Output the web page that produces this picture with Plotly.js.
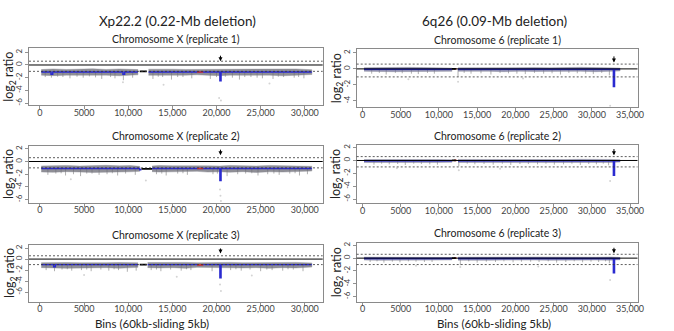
<!DOCTYPE html>
<html><head><meta charset="utf-8">
<script src="https://cdn.plot.ly/plotly-3.0.1.min.js"></script>
<style>html,body{margin:0;padding:0;background:#fff}</style>
</head><body><div id="chart" style="width:674px;height:331px"></div>
<script>
// ---------- tick labels ----------
const xTickValsL = [0, 5000, 10000, 15000, 20000, 25000, 30000];
const xTickTextL = ['0', '5000', '10,000', '15,000', '20,000', '25,000', '30,000'];
const xTickValsR = [0, 5000, 10000, 15000, 20000, 25000, 30000, 35000];
const xTickTextR = ['0', '5000', '10,000', '15,000', '20,000', '25,000', '30,000', '35,000'];
const yTickVals = [2, 0, -2, -4, -6];
const yTickText = ['2', '0', '-2', '-4', '-6'];
const thresholds = [0.6, -1.0];

const colTitles = ['Xp22.2 (0.22-Mb deletion)', '6q26 (0.09-Mb deletion)'];
const panelTitles = ['Chromosome X (replicate 1)', 'Chromosome 6 (replicate 1)',
                     'Chromosome X (replicate 2)', 'Chromosome 6 (replicate 2)',
                     'Chromosome X (replicate 3)', 'Chromosome 6 (replicate 3)'];
const xTitle = 'Bins (60kb-sliding 5kb)';
const yTitle = 'log<sub>2</sub> ratio';

// ---------- Chromosome X, replicate 1 ----------
const L1BandX  = [150, 1500, 3000, 4500, 6000, 7500, 9000, 10200, 11100, null, 12300, 13500, 15000, 16500, 17800, 19000, 20400, 21500, 23000, 24500, 26000, 27500, 29000, 30800];
const L1BandHi = [-0.72, -0.62, -0.7, -0.66, -0.6, -0.7, -0.62, -0.68, -0.72, null, -0.66, -0.62, -0.66, -0.7, -0.7, -0.66, -0.72, -0.64, -0.7, -0.62, -0.66, -0.7, -0.62, -0.75];
const L1BandLo = [-1.6, -1.68, -1.6, -1.62, -1.66, -1.6, -1.7, -1.62, -1.55, null, -1.62, -1.7, -1.64, -1.6, -1.55, -1.62, -1.68, -1.6, -1.62, -1.66, -1.6, -1.7, -1.62, -1.5];
const L1SpikeX  = [600, 1300, 2000, 2600, 3400, 4200, 4900, 5600, 6300, 7000, 8000, 8500, 9450, 10500, 12800, 13400, 13900, 14900, 15600, 16200, 17200, 19300, 20000, 21000, 21800, 22600, 23200, 23900, 24600, 25200, 26400, 27000, 27600, 28800, 29300, 29900];
const L1SpikeLo = [-1.9, -2.0, -1.85, -1.9, -2.1, -1.85, -2.0, -1.8, -1.95, -2.2, -1.9, -2.1, -2.4, -2.0, -2.2, -1.85, -1.9, -2.3, -1.9, -1.9, -2.1, -2.2, -1.9, -1.85, -2.0, -2.3, -1.9, -1.9, -2.0, -2.1, -2.2, -1.85, -1.9, -2.0, -1.9, -2.1];
const L1DotX = [9400, 14000, 20300, 20500, 26000];
const L1DotY = [-2.7, -3.1, -5.2, -5.6, -2.9];
const L1SegStart = [150, 1250, 1450, 9400, 9600, 12300, 18500, 20380, 20520];
const L1SegEnd   = [1250, 1450, 9400, 9600, 11100, 18500, 20380, 20520, 30800];
const L1SegMean  = [-1.1, -1.45, -1.1, -1.45, -1.1, -1.1, -1.1, -2.5, -1.1];
const L1RedStart = [17800], L1RedEnd = [18500], L1RedMean = [-1.1];
const L1CenStart = [11300], L1CenEnd = [12100], L1CenMean = [-1.0];
const L1Center = -1.1;
const L1Arrow = {x: 20450, top: 1.7, tip: 0.6};

// ---------- Chromosome X, replicate 2 ----------
const L2BandX  = [150, 1500, 3000, 4500, 6000, 7500, 9000, 10200, 11300, null, 12700, 13500, 15000, 16500, 17800, 19000, 20400, 21500, 23000, 24500, 26000, 27500, 29000, 30800];
const L2BandHi = [-0.7, -0.64, -0.62, -0.7, -0.64, -0.6, -0.68, -0.64, -0.75, null, -0.7, -0.62, -0.68, -0.64, -0.72, -0.68, -0.7, -0.62, -0.66, -0.7, -0.62, -0.68, -0.64, -0.75];
const L2BandLo = [-1.65, -1.7, -1.6, -1.65, -1.72, -1.6, -1.66, -1.62, -1.55, null, -1.6, -1.66, -1.72, -1.6, -1.55, -1.66, -1.62, -1.68, -1.6, -1.72, -1.62, -1.66, -1.6, -1.5];
const L2SpikeX  = [900, 1800, 2400, 2900, 3800, 4600, 5300, 5900, 6700, 7600, 8200, 8800, 9700, 10800, 13200, 13800, 14300, 15600, 16200, 16700, 19600, 20100, 21200, 22400, 23300, 24000, 24700, 25800, 26500, 27100, 28300, 28900, 29400, 30300];
const L2SpikeLo = [-2.1, -1.9, -1.85, -2.2, -2.0, -2.3, -1.9, -1.9, -2.1, -2.0, -1.85, -2.2, -1.9, -2.1, -2.0, -1.9, -2.2, -1.9, -1.85, -2.1, -2.0, -1.9, -2.3, -2.0, -1.9, -1.85, -2.2, -2.0, -1.9, -2.1, -1.9, -1.85, -2.2, -2.0];
const L2DotX = [3500, 12000, 20400, 20450, 20500];
const L2DotY = [-2.8, -3.0, -4.4, -5.4, -6.2];
const L2SegStart = [150, 11300, 12700, 18500, 20380, 20520];
const L2SegEnd   = [11300, 11500, 18500, 20380, 20520, 30800];
const L2SegMean  = [-1.1, -1.3, -1.1, -1.1, -3.0, -1.1];
const L2RedStart = [17800], L2RedEnd = [18500], L2RedMean = [-1.1];
const L2CenStart = [11500], L2CenEnd = [12700], L2CenMean = [-1.15];
const L2Center = -1.1;
const L2Arrow = {x: 20450, top: 2.1, tip: 1.0};

// ---------- Chromosome X, replicate 3 ----------
const L3BandX  = [150, 1500, 3000, 4500, 6000, 7500, 9000, 10200, 11100, null, 12200, 13500, 15000, 16500, 17800, 19000, 20400, 21500, 23000, 24500, 26000, 27500, 29000, 30800];
const L3BandHi = [-0.66, -0.6, -0.64, -0.66, -0.6, -0.66, -0.62, -0.58, -0.68, null, -0.64, -0.6, -0.66, -0.6, -0.68, -0.64, -0.66, -0.6, -0.66, -0.62, -0.6, -0.66, -0.6, -0.7];
const L3BandLo = [-1.55, -1.6, -1.66, -1.55, -1.6, -1.55, -1.66, -1.55, -1.5, null, -1.55, -1.6, -1.55, -1.66, -1.5, -1.55, -1.6, -1.55, -1.6, -1.55, -1.66, -1.55, -1.6, -1.45];
const L3SpikeX  = [700, 1650, 2500, 3100, 3600, 4700, 5300, 5800, 6900, 7800, 8400, 8900, 9900, 10900, 12600, 13200, 13700, 14800, 16000, 16600, 17100, 19500, 21600, 22200, 22800, 23800, 25000, 25700, 26300, 27500, 28100, 28700, 29800];
const L3SpikeLo = [-2.0, -2.2, -1.9, -1.85, -2.1, -2.0, -1.9, -2.2, -1.9, -2.1, -1.85, -2.0, -2.3, -2.1, -2.0, -1.9, -2.2, -1.9, -2.1, -1.85, -2.0, -2.2, -2.0, -1.85, -2.1, -1.9, -2.2, -1.9, -2.0, -2.1, -1.85, -1.9, -2.2];
const L3DotX = [5000, 15500, 20400, 20500, 24000];
const L3DotY = [-2.9, -3.2, -4.6, -5.8, -3.0];
const L3SegStart = [150, 1550, 1750, 12200, 18500, 20380, 20520];
const L3SegEnd   = [1550, 1750, 11100, 18500, 20380, 20520, 30800];
const L3SegMean  = [-1.0, -1.4, -1.0, -1.0, -1.0, -3.4, -1.0];
const L3RedStart = [17800], L3RedEnd = [18500], L3RedMean = [-1.05];
const L3CenStart = [11300], L3CenEnd = [12100], L3CenMean = [-1.0];
const L3Center = -1.0;
const L3Arrow = {x: 20450, top: 2.2, tip: 1.0};

// ---------- Chromosome 6, replicate 1 ----------
const R1BandX  = [200, 2000, 4000, 6000, 8000, 10000, 11700, null, 12500, 14500, 16500, 18500, 20500, 22500, 24500, 26500, 28500, 30500, 32500, 33700];
const R1BandHi = [0.15, 0.18, 0.14, 0.2, 0.16, 0.12, 0.1, null, 0.14, 0.16, 0.18, 0.15, 0.2, 0.16, 0.14, 0.18, 0.2, 0.16, 0.18, 0.1];
const R1BandLo = [-0.3, -0.32, -0.35, -0.3, -0.28, -0.32, -0.3, null, -0.3, -0.33, -0.3, -0.35, -0.3, -0.32, -0.3, -0.33, -0.3, -0.35, -0.3, -0.25];
const R1SpikeX  = [1200, 2200, 3100, 4300, 5200, 6400, 7300, 8500, 9400, 12500, 13300, 14200, 15500, 16800, 18000, 19100, 20200, 21300, 22500, 23700, 24800, 25900, 27000, 28100, 29200, 30200, 31300, 32300];
const R1SpikeLo = [-0.6, -0.5, -0.7, -0.5, -0.55, -0.6, -0.65, -0.5, -0.6, -1.0, -0.5, -0.6, -0.55, -0.7, -0.5, -0.55, -0.6, -0.65, -0.5, -0.6, -0.55, -0.7, -0.5, -0.55, -0.6, -0.65, -0.5, -0.8];
const R1DotX = [6000, 12500, 21000, 32400];
const R1DotY = [-1.3, -1.6, -1.2, -4.6];
const R1SegStart = [200, 12500, 32820, 32980];
const R1SegEnd   = [11700, 32820, 32980, 33700];
const R1SegMean  = [-0.05, -0.05, -2.2, -0.05];
const R1RedStart = [12000], R1RedEnd = [12300], R1RedMean = [0.02];
const R1CenStart = [11700], R1CenEnd = [12200], R1CenMean = [0.0];
const R1Center = -0.05;
const R1Arrow = {x: 32900, top: 1.75, tip: 0.8};

// ---------- Chromosome 6, replicate 2 ----------
const R2BandX  = [200, 2000, 4000, 6000, 8000, 10000, 11700, null, 12500, 14500, 16500, 18500, 20500, 22500, 24500, 26500, 28500, 30500, 32500, 33700];
const R2BandHi = [0.14, 0.16, 0.18, 0.14, 0.2, 0.15, 0.1, null, 0.16, 0.14, 0.2, 0.16, 0.15, 0.18, 0.16, 0.14, 0.18, 0.2, 0.16, 0.1];
const R2BandLo = [-0.32, -0.3, -0.34, -0.3, -0.32, -0.3, -0.28, null, -0.32, -0.3, -0.35, -0.3, -0.33, -0.3, -0.32, -0.35, -0.3, -0.32, -0.3, -0.25];
const R2SpikeX  = [1500, 2500, 3500, 4600, 5600, 6700, 7700, 8800, 9800, 12600, 13700, 14700, 15900, 17100, 18300, 19400, 20600, 21700, 22900, 24000, 25100, 26300, 27400, 28500, 29600, 30600, 31500, 32200];
const R2SpikeLo = [-0.65, -0.5, -0.6, -0.55, -0.7, -0.5, -0.55, -0.6, -0.65, -0.9, -0.5, -0.6, -0.55, -0.65, -0.5, -0.7, -0.55, -0.55, -0.6, -0.5, -0.65, -0.6, -0.5, -0.7, -0.55, -0.6, -0.5, -0.75];
const R2DotX = [4500, 12600, 18000, 32400];
const R2DotY = [-1.2, -1.5, -1.3, -3.2];
const R2SegStart = [200, 12500, 32820, 32980];
const R2SegEnd   = [11700, 32820, 32980, 33700];
const R2SegMean  = [-0.05, -0.05, -2.3, -0.05];
const R2RedStart = [12000], R2RedEnd = [12300], R2RedMean = [0.02];
const R2CenStart = [11700], R2CenEnd = [12200], R2CenMean = [0.0];
const R2Center = -0.05;
const R2Arrow = {x: 32900, top: 2.0, tip: 0.8};

// ---------- Chromosome 6, replicate 3 ----------
const R3BandX  = [200, 2000, 4000, 6000, 8000, 10000, 11700, null, 12500, 14500, 16500, 18500, 20500, 22500, 24500, 26500, 28500, 30500, 32500, 33700];
const R3BandHi = [0.16, 0.14, 0.18, 0.2, 0.15, 0.16, 0.1, null, 0.15, 0.18, 0.14, 0.2, 0.16, 0.18, 0.15, 0.2, 0.16, 0.14, 0.18, 0.1];
const R3BandLo = [-0.3, -0.34, -0.3, -0.32, -0.35, -0.3, -0.28, null, -0.32, -0.3, -0.33, -0.3, -0.35, -0.3, -0.32, -0.3, -0.34, -0.3, -0.32, -0.25];
const R3SpikeX  = [1000, 1900, 2800, 3900, 4900, 6000, 7000, 8100, 9100, 12800, 13900, 15000, 16200, 17400, 18500, 19700, 20800, 22000, 23100, 24300, 25400, 26600, 27700, 28800, 29900, 30900, 31800, 32300];
const R3SpikeLo = [-0.6, -0.5, -0.7, -0.55, -0.65, -0.5, -0.55, -0.6, -0.6, -1.1, -0.5, -0.7, -0.55, -0.6, -0.5, -0.65, -0.55, -0.55, -0.6, -0.5, -0.7, -0.6, -0.5, -0.65, -0.55, -0.6, -0.5, -0.8];
const R3DotX = [7000, 12800, 23000, 32400];
const R3DotY = [-1.2, -1.4, -1.3, -3.4];
const R3SegStart = [200, 12500, 32820, 32980];
const R3SegEnd   = [11700, 32820, 32980, 33700];
const R3SegMean  = [-0.05, -0.05, -2.3, -0.05];
const R3RedStart = [12000], R3RedEnd = [12300], R3RedMean = [0.02];
const R3CenStart = [11700], R3CenEnd = [12200], R3CenMean = [0.0];
const R3Center = -0.05;
const R3Arrow = {x: 32900, top: 1.85, tip: 0.75};

// ---------- assemble ----------
const W = 674, H = 331;
const FONT = 'Lato, "Open Sans", sans-serif';
const panels = [
  {id: '',  band: [L1BandX, L1BandHi, L1BandLo], spk: [L1SpikeX, L1SpikeLo], dot: [L1DotX, L1DotY], seg: [L1SegStart, L1SegEnd, L1SegMean], red: [L1RedStart, L1RedEnd, L1RedMean], cen: [L1CenStart, L1CenEnd, L1CenMean], center: L1Center, arrow: L1Arrow,
   px: [29, 322.7], py: [48.3, 105.3], yr: [-6.35, 2.63], xr: [-1240, 32030], left: true},
  {id: '2', band: [R1BandX, R1BandHi, R1BandLo], spk: [R1SpikeX, R1SpikeLo], dot: [R1DotX, R1DotY], seg: [R1SegStart, R1SegEnd, R1SegMean], red: [R1RedStart, R1RedEnd, R1RedMean], cen: [R1CenStart, R1CenEnd, R1CenMean], center: R1Center, arrow: R1Arrow,
   px: [356.7, 637.5], py: [49.3, 107.3], yr: [-4.8, 2.45], xr: [-760, 35980], left: false},
  {id: '3', band: [L2BandX, L2BandHi, L2BandLo], spk: [L2SpikeX, L2SpikeLo], dot: [L2DotX, L2DotY], seg: [L2SegStart, L2SegEnd, L2SegMean], red: [L2RedStart, L2RedEnd, L2RedMean], cen: [L2CenStart, L2CenEnd, L2CenMean], center: L2Center, arrow: L2Arrow,
   px: [29, 322.7], py: [145.5, 202.5], yr: [-6.45, 2.52], xr: [-1240, 32030], left: true},
  {id: '4', band: [R2BandX, R2BandHi, R2BandLo], spk: [R2SpikeX, R2SpikeLo], dot: [R2DotX, R2DotY], seg: [R2SegStart, R2SegEnd, R2SegMean], red: [R2RedStart, R2RedEnd, R2RedMean], cen: [R2CenStart, R2CenEnd, R2CenMean], center: R2Center, arrow: R2Arrow,
   px: [356.7, 637.5], py: [145, 203], yr: [-6.6, 2.4], xr: [-760, 35980], left: false},
  {id: '5', band: [L3BandX, L3BandHi, L3BandLo], spk: [L3SpikeX, L3SpikeLo], dot: [L3DotX, L3DotY], seg: [L3SegStart, L3SegEnd, L3SegMean], red: [L3RedStart, L3RedEnd, L3RedMean], cen: [L3CenStart, L3CenEnd, L3CenMean], center: L3Center, arrow: L3Arrow,
   px: [29, 322.7], py: [244.5, 301.5], yr: [-7.7, 2.65], xr: [-1240, 32030], left: true},
  {id: '6', band: [R3BandX, R3BandHi, R3BandLo], spk: [R3SpikeX, R3SpikeLo], dot: [R3DotX, R3DotY], seg: [R3SegStart, R3SegEnd, R3SegMean], red: [R3RedStart, R3RedEnd, R3RedMean], cen: [R3CenStart, R3CenEnd, R3CenMean], center: R3Center, arrow: R3Arrow,
   px: [356.7, 637.5], py: [243, 301.5], yr: [-6.76, 2.36], xr: [-760, 35980], left: false}
];

function steps(s, e, m) {
  const xs = [], ys = [];
  for (let i = 0; i < s.length; i++) {
    if (i > 0 && s[i] !== e[i - 1]) { xs.push(null); ys.push(null); }
    xs.push(s[i], e[i]); ys.push(m[i], m[i]);
  }
  return [xs, ys];
}

const traces = [], shapes = [], annotations = [];
const layout = {
  width: W, height: H, margin: {l: 0, r: 0, t: 0, b: 0},
  paper_bgcolor: '#fff', plot_bgcolor: '#fff', showlegend: false,
  font: {family: FONT, color: '#222'}
};

panels.forEach((p, idx) => {
  const xa = 'x' + p.id, ya = 'y' + p.id;
  const bandFill = p.left ? 'rgba(105,105,115,0.75)' : 'rgba(95,95,150,0.7)';
  // spikes (under band)
  const sx = [], sy = [];
  p.spk[0].forEach((v, i) => { sx.push(v, v, null); sy.push(p.center, p.spk[1][i], null); });
  traces.push({x: sx, y: sy, xaxis: xa, yaxis: ya, type: 'scatter', mode: 'lines', line: {width: 0.8, color: '#9c9c9c'}, hoverinfo: 'skip'});
  // noise band (one polygon per arm)
  const [bx, bh, bl] = p.band;
  let run = [];
  const flush = () => {
    if (!run.length) return;
    const xs = run.map(i => bx[i]), hs = run.map(i => bh[i]), ls = run.map(i => bl[i]);
    traces.push({x: xs.concat(xs.slice().reverse()), y: hs.concat(ls.slice().reverse()), xaxis: xa, yaxis: ya,
      type: 'scatter', mode: 'lines', fill: 'toself', fillcolor: bandFill, line: {width: 0.6, color: 'rgba(140,140,150,0.7)'}, hoverinfo: 'skip'});
    run = [];
  };
  bx.forEach((v, i) => { if (v === null) flush(); else run.push(i); });
  flush();
  // faint dots
  traces.push({x: p.dot[0], y: p.dot[1], xaxis: xa, yaxis: ya, type: 'scatter', mode: 'markers', marker: {size: 2, color: '#d4d4d4'}, hoverinfo: 'skip'});
  // segments
  const [gx, gy] = steps(p.seg[0], p.seg[1], p.seg[2]);
  traces.push({x: gx, y: gy, xaxis: xa, yaxis: ya, type: 'scatter', mode: 'lines', line: {width: 1.4, color: '#2a2ad0'}, hoverinfo: 'skip'});
  const [rx, ry] = steps(p.red[0], p.red[1], p.red[2]);
  traces.push({x: rx, y: ry, xaxis: xa, yaxis: ya, type: 'scatter', mode: 'lines', line: {width: 1.6, color: '#d23030'}, hoverinfo: 'skip'});
  const [cx, cy] = steps(p.cen[0], p.cen[1], p.cen[2]);
  traces.push({x: cx, y: cy, xaxis: xa, yaxis: ya, type: 'scatter', mode: 'lines', line: {width: 1.8, color: '#000'}, hoverinfo: 'skip'});

  // axes
  const xKey = 'xaxis' + p.id, yKey = 'yaxis' + p.id;
  layout[xKey] = {
    domain: [p.px[0] / W, p.px[1] / W], range: p.xr, anchor: ya,
    tickvals: p.left ? xTickValsL : xTickValsR, ticktext: p.left ? xTickTextL : xTickTextR,
    ticks: 'outside', ticklen: 3, tickcolor: '#777', tickwidth: 0.8, ticklabelstandoff: -4,
    showline: true, mirror: true, linecolor: '#8a8a8a', linewidth: 1,
    showgrid: false, zeroline: false, tickfont: {size: 9, family: FONT, color: '#444'}
  };
  layout[yKey] = {
    domain: [1 - p.py[1] / H, 1 - p.py[0] / H], range: p.yr, anchor: xa,
    tickvals: yTickVals, ticktext: yTickText, tickangle: -90,
    ticks: 'outside', ticklen: 3, tickcolor: '#777', tickwidth: 0.8,
    showline: true, mirror: true, linecolor: '#8a8a8a', linewidth: 1,
    showgrid: false, zeroline: false, tickfont: {size: 8, family: FONT, color: '#444'}
  };
  // reference lines
  shapes.push({type: 'line', xref: xa + ' domain', yref: ya, x0: 0, x1: 1, y0: 0, y1: 0, line: {color: '#000', width: 1}});
  thresholds.forEach(t => shapes.push({type: 'line', xref: xa + ' domain', yref: ya, x0: 0, x1: 1, y0: t, y1: t,
    line: {color: '#333', width: 0.8, dash: '2px,2px'}}));
  // arrow
  annotations.push({xref: xa, yref: ya, axref: xa, ayref: ya, x: p.arrow.x, y: p.arrow.tip, ax: p.arrow.x, ay: p.arrow.top,
    text: '', showarrow: true, arrowhead: 2, arrowsize: 0.8, arrowwidth: 1, arrowcolor: '#000'});
  // panel title
  annotations.push({xref: 'paper', yref: 'paper', x: (p.px[0] + p.px[1]) / 2 / W, y: 1 - (p.py[0] - 9.5) / H,
    text: panelTitles[idx], showarrow: false, xanchor: 'center', yanchor: 'middle', font: {size: 10.5, family: FONT, color: '#222'}});
  // y title
  annotations.push({xref: 'paper', yref: 'paper', x: (p.left ? 10 : 337) / W, y: 1 - (p.py[0] + p.py[1]) / 2 / H,
    text: yTitle, textangle: -90, showarrow: false, xanchor: 'center', yanchor: 'middle', font: {size: 12.5, family: FONT, color: '#222'}});
});

// column titles
annotations.push({xref: 'paper', yref: 'paper', x: 177 / W, y: 1 - 21 / H, text: colTitles[0], showarrow: false, xanchor: 'center', yanchor: 'middle', font: {size: 13.5, family: FONT, color: '#222'}});
annotations.push({xref: 'paper', yref: 'paper', x: 494 / W, y: 1 - 21 / H, text: colTitles[1], showarrow: false, xanchor: 'center', yanchor: 'middle', font: {size: 13.5, family: FONT, color: '#222'}});
// x titles
annotations.push({xref: 'paper', yref: 'paper', x: 152 / W, y: 1 - 323 / H, text: xTitle, showarrow: false, xanchor: 'center', yanchor: 'middle', font: {size: 11.5, family: FONT, color: '#222'}});
annotations.push({xref: 'paper', yref: 'paper', x: 494 / W, y: 1 - 323 / H, text: xTitle, showarrow: false, xanchor: 'center', yanchor: 'middle', font: {size: 11.5, family: FONT, color: '#222'}});

layout.shapes = shapes;
layout.annotations = annotations;
Plotly.newPlot('chart', traces, layout, {displayModeBar: false, staticPlot: true});
</script></body></html>
